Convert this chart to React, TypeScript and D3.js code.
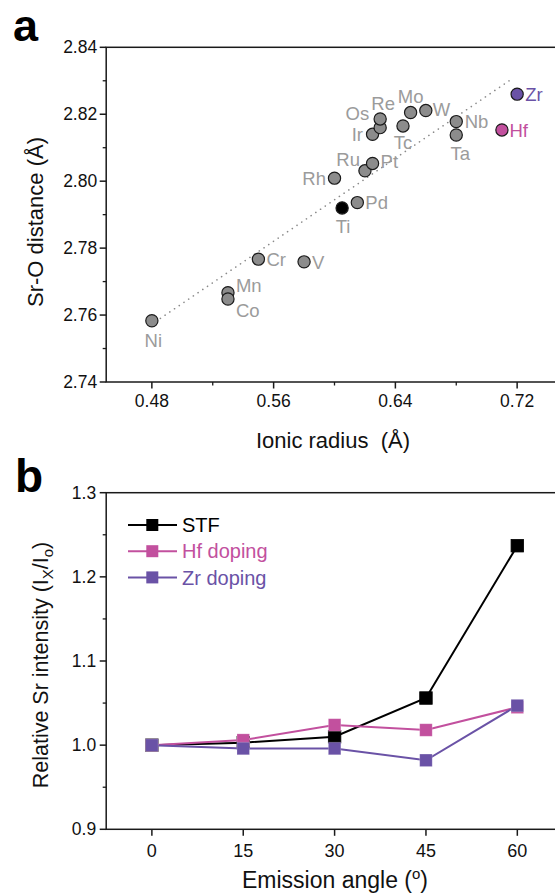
import React from "react";
import * as d3 from "d3";

// ---------- Panel a data ----------
const elements = ["Ni", "Mn", "Co", "Cr", "V", "Rh", "Ti", "Pd", "Ru", "Pt", "Ir", "Os", "Re", "Tc", "Mo", "W", "Nb", "Ta", "Hf", "Zr"];
const ionicRadius = [0.48, 0.53, 0.53, 0.55, 0.58, 0.6, 0.605, 0.615, 0.62, 0.625, 0.625, 0.63, 0.63, 0.645, 0.65, 0.66, 0.68, 0.68, 0.71, 0.72];
const srODistance = [2.7583, 2.7667, 2.7648, 2.7767, 2.7759, 2.8009, 2.792, 2.7936, 2.8031, 2.8053, 2.814, 2.816, 2.8186, 2.8165, 2.8205, 2.8211, 2.8178, 2.8138, 2.8153, 2.826];
const trendX = [0.4856, 0.717];
const trendY = [2.759, 2.8307];
const aXMajor = [0.48, 0.56, 0.64, 0.72];
const aXMinor = [0.52, 0.6, 0.68];
const aYMajor = [2.74, 2.76, 2.78, 2.8, 2.82, 2.84];
const aYMinor = [2.75, 2.77, 2.79, 2.81, 2.83];

// ---------- Panel b data ----------
const angles = [0, 15, 30, 45, 60];
const stfValues = [1.0, 1.003, 1.01, 1.056, 1.237];
const hfValues = [1.0, 1.006, 1.024, 1.018, 1.045];
const zrValues = [1.0, 0.996, 0.996, 0.982, 1.047];
const seriesNames = ["STF", "Hf doping", "Zr doping"];
const bXMajor = [0, 15, 30, 45, 60];
const bYMajor = [0.9, 1.0, 1.1, 1.2, 1.3];
const bYMinor = [0.95, 1.05, 1.15, 1.25];

// ---------- styles ----------
const FONT = "'Liberation Sans', Arial, Helvetica, sans-serif";
const AXIS = "#1a1a1a";
const GREY_FILL = "#8c8c8c";
const LABEL_GREY = "#9b9b9b";
const HF_COLOR = "#c2509e";
const ZR_COLOR = "#6a52a6";
const seriesColors = ["#000000", HF_COLOR, ZR_COLOR];

const labelLayout: Record<string, { dx: number; dy: number; anchor: string }> = {
  Ni: { dx: 1.5, dy: 20, anchor: "middle" },
  Mn: { dx: 8, dy: -7, anchor: "start" },
  Co: { dx: 8, dy: 11, anchor: "start" },
  Cr: { dx: 8, dy: 0, anchor: "start" },
  V: { dx: 8, dy: 0, anchor: "start" },
  Rh: { dx: -8.5, dy: 0, anchor: "end" },
  Ti: { dx: 1, dy: 18, anchor: "middle" },
  Pd: { dx: 8, dy: 0, anchor: "start" },
  Ru: { dx: -5, dy: -11, anchor: "end" },
  Pt: { dx: 8, dy: -2, anchor: "start" },
  Ir: { dx: -9.5, dy: 0, anchor: "end" },
  Os: { dx: -11, dy: -14.5, anchor: "end" },
  Re: { dx: 3, dy: -15.5, anchor: "middle" },
  Tc: { dx: 0, dy: 16.5, anchor: "middle" },
  Mo: { dx: 0, dy: -16, anchor: "middle" },
  W: { dx: 7, dy: -1, anchor: "start" },
  Nb: { dx: 8.5, dy: 0, anchor: "start" },
  Ta: { dx: 4, dy: 18, anchor: "middle" },
  Hf: { dx: 7.5, dy: 0, anchor: "start" },
  Zr: { dx: 8, dy: 0, anchor: "start" },
};

function pointFill(el: string) {
  if (el === "Ti") return "#000000";
  if (el === "Hf") return HF_COLOR;
  if (el === "Zr") return ZR_COLOR;
  return GREY_FILL;
}
function labelFill(el: string) {
  if (el === "Hf") return HF_COLOR;
  if (el === "Zr") return ZR_COLOR;
  return LABEL_GREY;
}

export default function App() {
  // Panel a scales
  const ax = d3.scaleLinear().domain([0.45, 0.75]).range([106.2, 562.8]);
  const ay = d3.scaleLinear().domain([2.74, 2.84]).range([382, 47.3]);
  // Panel b scales
  const bx = d3.scaleLinear().domain([-7.5, 67.5]).range([106.2, 563]);
  const by = d3.scaleLinear().domain([0.9, 1.3]).range([829.3, 492.7]);

  const bSeries = [stfValues, hfValues, zrValues];
  const lineGen = d3
    .line<[number, number]>()
    .x((d) => bx(d[0]))
    .y((d) => by(d[1]));

  const tickLabelSize = 17.5;
  const sq = 12.5;

  const aLeft = ax.range()[0];
  const aRight = ax.range()[1];
  const aTop = ay.range()[1];
  const aBottom = ay.range()[0];
  const bLeft = bx.range()[0];
  const bRight = bx.range()[1];
  const bTop = by.range()[1];
  const bBottom = by.range()[0];

  return (
    <svg
      width={555}
      height={893}
      style={{ position: "absolute", left: 0, top: 0, background: "#fff" }}
      fontFamily={FONT}
    >
      <rect x={0} y={0} width={555} height={893} fill="#fff" />

      {/* ================= Panel a ================= */}
      <text x={13} y={41} fontSize={45} fontWeight="bold" fill="#000">a</text>

      {/* trend line */}
      <line
        x1={ax(trendX[0])}
        y1={ay(trendY[0])}
        x2={ax(trendX[1])}
        y2={ay(trendY[1])}
        stroke="#8a8a8a"
        strokeWidth={1.6}
        strokeDasharray="0.1 5.6"
        strokeLinecap="round"
      />

      {/* frame */}
      <rect x={aLeft} y={aTop} width={aRight - aLeft} height={aBottom - aTop} fill="none" stroke={AXIS} strokeWidth={1.5} />

      {/* y ticks */}
      {aYMajor.map((v) => (
        <g key={"aym" + v}>
          <line x1={aLeft - 6.5} x2={aLeft} y1={ay(v)} y2={ay(v)} stroke={AXIS} strokeWidth={1.5} />
          <text x={aLeft - 9} y={ay(v)} dy="0.35em" textAnchor="end" fontSize={tickLabelSize} fill="#111">
            {v.toFixed(2)}
          </text>
        </g>
      ))}
      {aYMinor.map((v) => (
        <line key={"ayn" + v} x1={aLeft - 3.5} x2={aLeft} y1={ay(v)} y2={ay(v)} stroke={AXIS} strokeWidth={1.3} />
      ))}
      {/* x ticks */}
      {aXMajor.map((v) => (
        <g key={"axm" + v}>
          <line x1={ax(v)} x2={ax(v)} y1={aBottom} y2={aBottom + 6.5} stroke={AXIS} strokeWidth={1.5} />
          <text x={ax(v)} y={407} textAnchor="middle" fontSize={tickLabelSize} fill="#111">
            {v.toFixed(2)}
          </text>
        </g>
      ))}
      {aXMinor.map((v) => (
        <line key={"axn" + v} x1={ax(v)} x2={ax(v)} y1={aBottom} y2={aBottom + 3.5} stroke={AXIS} strokeWidth={1.3} />
      ))}

      {/* axis titles */}
      <text x={333} y={448} textAnchor="middle" fontSize={22} fill="#111">
        Ionic radius{"\u00a0\u00a0"}(Å)
      </text>
      <text
        transform={`translate(43, 222) rotate(-90)`}
        textAnchor="middle"
        fontSize={22}
        fill="#111"
      >
        Sr-O distance (Å)
      </text>

      {/* points */}
      {elements.map((el, i) => (
        <circle
          key={"pt" + el}
          cx={ax(ionicRadius[i])}
          cy={ay(srODistance[i])}
          r={6.1}
          fill={pointFill(el)}
          stroke="#1a1a1a"
          strokeWidth={1.2}
        />
      ))}
      {/* labels */}
      {elements.map((el, i) => {
        const L = labelLayout[el];
        return (
          <text
            key={"lb" + el}
            x={ax(ionicRadius[i]) + L.dx}
            y={ay(srODistance[i]) + L.dy}
            dy="0.36em"
            textAnchor={L.anchor}
            fontSize={18.5}
            fill={labelFill(el)}
          >
            {el}
          </text>
        );
      })}

      {/* ================= Panel b ================= */}
      <text x={15} y={491.5} fontSize={46} fontWeight="bold" fill="#000">b</text>

      <rect x={bLeft} y={bTop} width={bRight - bLeft} height={bBottom - bTop} fill="none" stroke={AXIS} strokeWidth={1.5} />

      {bYMajor.map((v) => (
        <g key={"bym" + v}>
          <line x1={bLeft - 6.5} x2={bLeft} y1={by(v)} y2={by(v)} stroke={AXIS} strokeWidth={1.5} />
          <text x={bLeft - 10} y={by(v)} dy="0.35em" textAnchor="end" fontSize={tickLabelSize} fill="#111">
            {v.toFixed(1)}
          </text>
        </g>
      ))}
      {bYMinor.map((v) => (
        <line key={"byn" + v} x1={bLeft - 3.5} x2={bLeft} y1={by(v)} y2={by(v)} stroke={AXIS} strokeWidth={1.3} />
      ))}
      {bXMajor.map((v) => (
        <g key={"bxm" + v}>
          <line x1={bx(v)} x2={bx(v)} y1={bBottom} y2={bBottom + 6.5} stroke={AXIS} strokeWidth={1.5} />
          <text x={bx(v)} y={857} textAnchor="middle" fontSize={18} fill="#111">
            {v}
          </text>
        </g>
      ))}

      <text x={335} y={888} textAnchor="middle" fontSize={23} fill="#111">
        Emission angle (<tspan fontSize={15} dy={-9}>o</tspan>
        <tspan dy={9}>)</tspan>
      </text>
      <text transform={`translate(48, 665) rotate(-90)`} textAnchor="middle" fontSize={21.5} fill="#111">
        Relative Sr intensity (I
        <tspan fontSize={15} dy={5}>X</tspan>
        <tspan dy={-5}>/I</tspan>
        <tspan fontSize={15} dy={5}>o</tspan>
        <tspan dy={-5}>)</tspan>
      </text>

      {/* series */}
      {bSeries.map((vals, si) => {
        const pts = angles.map((a, i) => [a, vals[i]] as [number, number]);
        return (
          <g key={"s" + si}>
            <path d={lineGen(pts) || ""} fill="none" stroke={seriesColors[si]} strokeWidth={2} />
            {pts.map((p, i) => (
              <rect
                key={"m" + si + i}
                x={bx(p[0]) - sq / 2}
                y={by(p[1]) - sq / 2}
                width={sq}
                height={sq}
                fill={seriesColors[si]}
                stroke={si === 0 ? "#000" : "#ffffff"}
                strokeOpacity={si === 0 ? 1 : 0.25}
                strokeWidth={0.8}
              />
            ))}
          </g>
        );
      })}

      {/* legend */}
      {seriesNames.map((name, i) => {
        const yy = 525 + i * 26.2;
        return (
          <g key={"lg" + name}>
            <line x1={128} x2={177} y1={yy} y2={yy} stroke={seriesColors[i]} strokeWidth={2} />
            <rect x={152.3 - 6} y={yy - 6} width={12} height={12} fill={seriesColors[i]} />
            <text x={182} y={yy} dy="0.36em" fontSize={20} fill={seriesColors[i]}>
              {name}
            </text>
          </g>
        );
      })}
    </svg>
  );
}
